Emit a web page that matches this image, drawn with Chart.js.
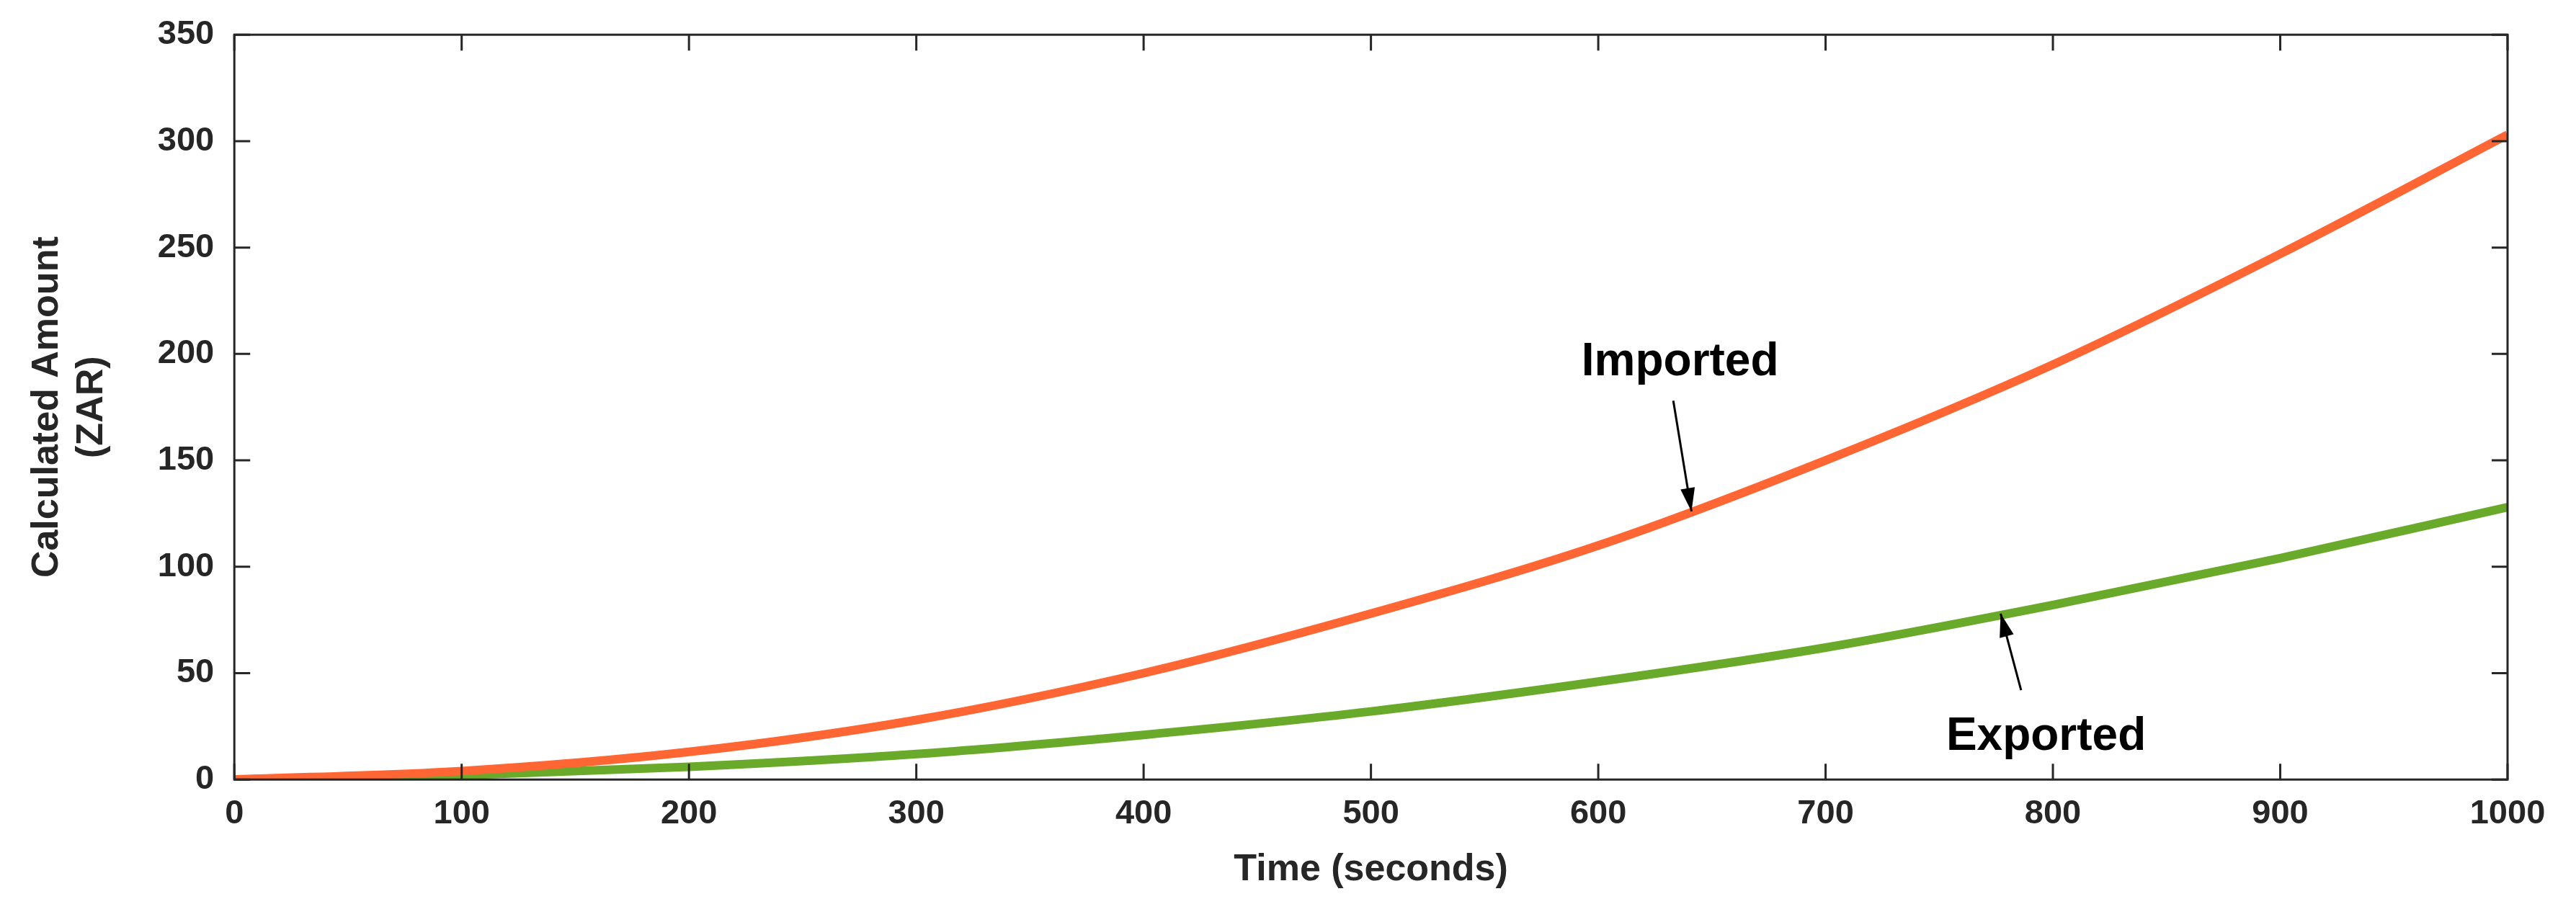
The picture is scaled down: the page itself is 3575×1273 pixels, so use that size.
<!DOCTYPE html>
<html lang="en">
<head>
<meta charset="UTF-8">
<title>Calculated Amount</title>
<script src="https://cdn.jsdelivr.net/npm/chart.js"></script>
<style>
  html, body { margin: 0; padding: 0; background: #fff; }
  #wrap { width: 3575px; height: 1273px; }
</style>
</head>
<body>
<div id="wrap"><canvas id="amountChart"></canvas></div>
<script>
const timeSec = [0, 100, 200, 300, 400, 500, 600, 700, 800, 900, 1000];
const imported = [0, 4, 13, 28, 50, 78, 110, 150, 195, 247, 303];
const exported = [0, 2, 6, 12, 21, 32, 46, 62, 82, 104, 128];
const xTicks = [0, 100, 200, 300, 400, 500, 600, 700, 800, 900, 1000];
const yTicks = [0, 50, 100, 150, 200, 250, 300, 350];

const toPoints = (ys) => timeSec.map((t, i) => ({ x: t, y: ys[i] }));

// inner tick marks, box and the two arrow labels
const framePlugin = {
    id: "frame",
    afterDatasetsDraw(chart) {
        const { ctx, chartArea: a, scales: { x, y } } = chart;
        ctx.save();
        ctx.strokeStyle = "#262626";
        ctx.lineWidth = 3;
        ctx.strokeRect(a.left, a.top, a.right - a.left, a.bottom - a.top);
        const len = 22;
        xTicks.forEach(v => {
            const px = x.getPixelForValue(v);
            ctx.beginPath();
            ctx.moveTo(px, a.bottom); ctx.lineTo(px, a.bottom - len);
            ctx.moveTo(px, a.top); ctx.lineTo(px, a.top + len);
            ctx.stroke();
        });
        yTicks.forEach(v => {
            const py = y.getPixelForValue(v);
            ctx.beginPath();
            ctx.moveTo(a.left, py); ctx.lineTo(a.left + len, py);
            ctx.moveTo(a.right, py); ctx.lineTo(a.right - len, py);
            ctx.stroke();
        });

        const arrow = (x0, y0, x1, y1) => {
            const p0 = [x.getPixelForValue(x0), y.getPixelForValue(y0)];
            const p1 = [x.getPixelForValue(x1), y.getPixelForValue(y1)];
            ctx.strokeStyle = "#000";
            ctx.fillStyle = "#000";
            ctx.lineWidth = 3;
            ctx.beginPath();
            ctx.moveTo(p0[0], p0[1]); ctx.lineTo(p1[0], p1[1]);
            ctx.stroke();
            const ang = Math.atan2(p1[1] - p0[1], p1[0] - p0[0]);
            const h = 34, w = 0.3;
            ctx.beginPath();
            ctx.moveTo(p1[0], p1[1]);
            ctx.lineTo(p1[0] - h * Math.cos(ang - w), p1[1] - h * Math.sin(ang - w));
            ctx.lineTo(p1[0] - h * Math.cos(ang + w), p1[1] - h * Math.sin(ang + w));
            ctx.closePath();
            ctx.fill();
        };
        arrow(633, 178, 641, 126);
        arrow(786, 42, 777, 78);

        ctx.fillStyle = "#000";
        ctx.font = "bold 64px Arial, 'Liberation Sans', sans-serif";
        ctx.textAlign = "center";
        ctx.textBaseline = "middle";
        ctx.fillText("Imported", x.getPixelForValue(636), y.getPixelForValue(196));
        ctx.fillText("Exported", x.getPixelForValue(797), y.getPixelForValue(20));
        ctx.restore();
    }
};

const axisFont = { family: "Arial, 'Liberation Sans', sans-serif", size: 47, weight: "bold" };

new Chart(document.getElementById("amountChart").getContext("2d"), {
    type: "line",
    data: {
        datasets: [
            {
                label: "Imported",
                data: toPoints(imported),
                borderColor: "#ff6633",
                borderWidth: 12,
                pointRadius: 0,
                cubicInterpolationMode: "monotone",
                fill: false
            },
            {
                label: "Exported",
                data: toPoints(exported),
                borderColor: "#6aaa2a",
                borderWidth: 12,
                pointRadius: 0,
                cubicInterpolationMode: "monotone",
                fill: false
            }
        ]
    },
    options: {
        responsive: true,
        maintainAspectRatio: false,
        animation: false,
        layout: { padding: { left: 30, right: 95, top: 40, bottom: 30 } },
        plugins: { legend: { display: false }, tooltip: { enabled: false } },
        scales: {
            x: {
                type: "linear",
                min: 0, max: 1000,
                grid: { display: false },
                border: { display: false },
                afterBuildTicks: (s) => { s.ticks = xTicks.map(v => ({ value: v })); },
                ticks: { color: "#262626", font: axisFont, padding: 12, maxRotation: 0, callback: (v) => String(v) },
                title: { display: true, text: "Time (seconds)", color: "#262626", font: { ...axisFont, size: 52 }, padding: { top: 6 } }
            },
            y: {
                min: 0, max: 350,
                grid: { display: false },
                border: { display: false },
                afterBuildTicks: (s) => { s.ticks = yTicks.map(v => ({ value: v })); },
                ticks: { color: "#262626", font: axisFont, padding: 20 },
                title: { display: true, text: ["Calculated Amount", "(ZAR)"], color: "#262626", font: { ...axisFont, size: 52 }, padding: { bottom: 40 } }
            }
        }
    },
    plugins: [framePlugin]
});
</script>
</body>
</html>
